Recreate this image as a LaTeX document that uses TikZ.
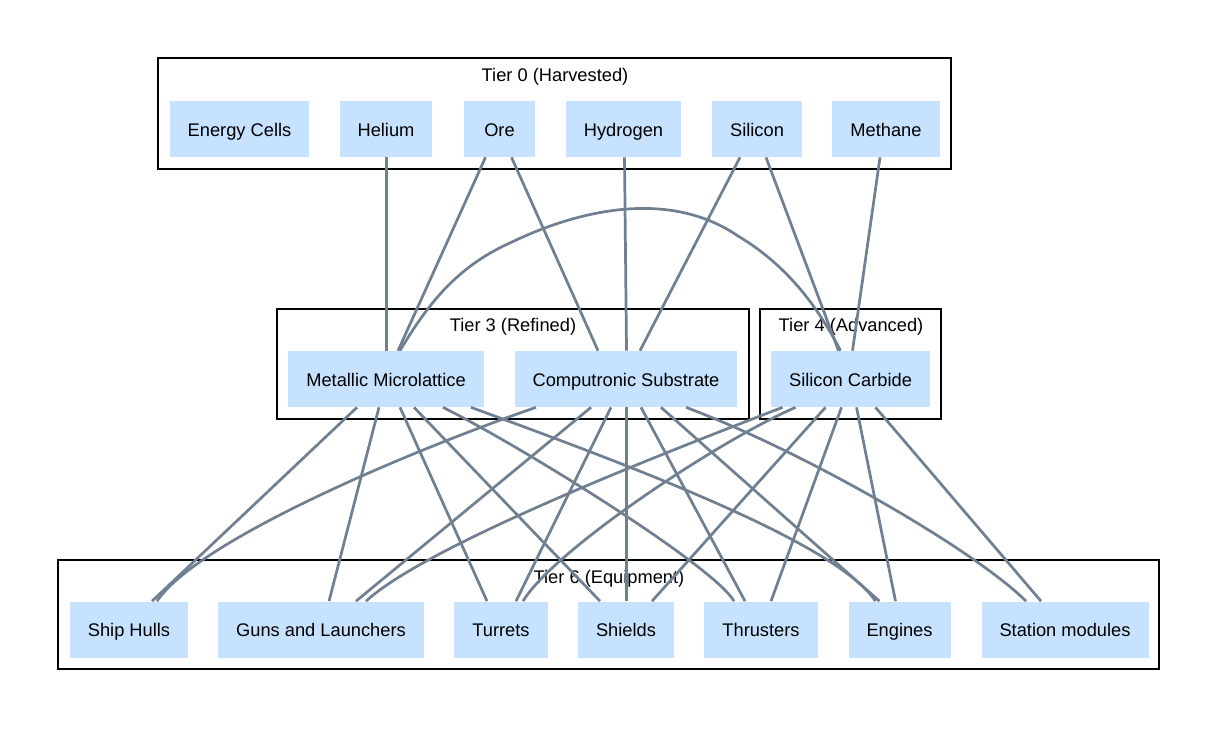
\documentclass[tikz,border=0pt]{standalone}
\usepackage{fontspec}
\setmainfont{Liberation Sans}
\usetikzlibrary{calc}
\definecolor{boxblue}{HTML}{C6E2FF}
\definecolor{linkgray}{HTML}{708090}
\tikzset{
    voce/.style={fill=boxblue, minimum height=1.12cm, minimum width=1.42cm, inner xsep=0.36cm,
        text height=9pt, text depth=0.5pt, font=\fontsize{10.4}{12}\selectfont},
    gruppo/.style={draw=black, line width=0.6pt},
    titolo/.style={font=\fontsize{10.4}{12}\selectfont},
    link/.style={draw=linkgray, line width=1.55pt}
}
\begin{document}
\begin{tikzpicture}[x=0.02cm,y=-0.02cm]
    \useasboundingbox (0,0) rectangle (1219,729);

    %gruppi
    \draw[gruppo] (158,58) rectangle (951,169);
    \node[titolo] (t0) at (555,76.5) {Tier 0 (Harvested)};
    \draw[gruppo] (277,309) rectangle (749,419);
    \node[titolo] (t3) at (513,326.5) {Tier 3 (Refined)};
    \draw[gruppo] (760,309) rectangle (941,419);
    \node[titolo] (t4) at (851,326.5) {Tier 4 (Advanced)};
    \draw[gruppo] (58,560) rectangle (1159,669);
    \node[titolo] (t6) at (609,578.5) {Tier 6 (Equipment)};

    %tier 0
    \node[voce] (ec) at (239.5,129) {Energy Cells};
    \node[voce] (he) at (386,129) {Helium};
    \node[voce] (ore) at (499.5,129) {Ore};
    \node[voce] (hy) at (623.5,129) {Hydrogen};
    \node[voce] (si) at (757,129) {Silicon};
    \node[voce] (me) at (886,129) {Methane};

    %tier 3 e 4
    \node[voce] (mm) at (386,379) {Metallic Microlattice};
    \node[voce] (cs) at (626,379) {Computronic Substrate};
    \node[voce] (sc) at (850.5,379) {Silicon Carbide};

    %tier 6
    \node[voce] (sh) at (129,629.5) {Ship Hulls};
    \node[voce] (gl) at (321,629.5) {Guns and Launchers};
    \node[voce] (tu) at (501,629.5) {Turrets};
    \node[voce] (sd) at (626,629.5) {Shields};
    \node[voce] (th) at (761,629.5) {Thrusters};
    \node[voce] (en) at (899.5,629.5) {Engines};
    \node[voce] (sm) at (1065,629.5) {Station modules};

    %collegamenti in alto
    \draw[link] ($(he.south)+(0.5,0)$) -- ($(mm.north)+(0.5,0)$);
    \draw[link] ($(ore.south)+(-14,0)$) -- ($(mm.north)+(12,0)$);
    \draw[link] ($(ore.south)+(12,0)$) -- ($(cs.north)+(-28,0)$);
    \draw[link] ($(hy.south)+(1,0)$) -- ($(cs.north)+(0.5,0)$);
    \draw[link] ($(si.south)+(-17,0)$) -- ($(cs.north)+(14,0)$);
    \draw[link] ($(si.south)+(9,0)$) -- ($(sc.north)+(-12,0)$);
    \draw[link] ($(me.south)+(-6,0)$) -- ($(sc.north)+(2,0)$);
    %arco
    \draw[link] ($(mm.north)+(14,0)$) .. controls (430,300) and (460,265) .. (512,242)
        .. controls (570,214) and (665,186) .. (738,236)
        .. controls (792,268) and (822,315) .. ($(sc.north)+(-10,0)$);

    %collegamenti in basso
    \draw[link] ($(mm.south)+(-29,0)$) -- ($(sh.north)+(23,0)$);
    \draw[link] ($(mm.south)+(-7,0)$) -- ($(gl.north)+(8,0)$);
    \draw[link] ($(mm.south)+(14,0)$) -- ($(tu.north)+(-14,0)$);
    \draw[link] ($(mm.south)+(28,0)$) -- ($(sd.north)+(-26,0)$);
    \draw[link] ($(mm.south)+(57,0)$) .. controls +(80,40) and +(-20,-35) .. ($(th.north)+(-27,0)$);
    \draw[link] ($(mm.south)+(85,0)$) .. controls +(150,55) and +(-40,-60) .. ($(en.north)+(-24,0)$);

    \draw[link] ($(cs.south)+(-90,0)$) .. controls +(-130,45) and +(40,-60) .. ($(sh.north)+(28,0)$);
    \draw[link] ($(cs.south)+(-35,0)$) -- ($(gl.north)+(35,0)$);
    \draw[link] ($(cs.south)+(-15,0)$) -- ($(tu.north)+(15,0)$);
    \draw[link] ($(cs.south)+(0.5,0)$) -- ($(sd.north)+(0.5,0)$);
    \draw[link] ($(cs.south)+(15,0)$) -- ($(th.north)+(-16,0)$);
    \draw[link] ($(cs.south)+(35,0)$) -- ($(en.north)+(-20,0)$);
    \draw[link] ($(cs.south)+(60,0)$) .. controls +(120,45) and +(-50,-50) .. ($(sm.north)+(-39,0)$);

    \draw[link] ($(sc.south)+(-68,0)$) .. controls +(-130,50) and +(60,-55) .. ($(gl.north)+(45,0)$);
    \draw[link] ($(sc.south)+(-55,0)$) .. controls +(-80,35) and +(30,-50) .. ($(tu.north)+(22,0)$);
    \draw[link] ($(sc.south)+(-25,0)$) -- ($(sd.north)+(26,0)$);
    \draw[link] ($(sc.south)+(-9,0)$) -- ($(th.north)+(10,0)$);
    \draw[link] ($(sc.south)+(6,0)$) -- ($(en.north)+(-4,0)$);
    \draw[link] ($(sc.south)+(25,0)$) -- ($(sm.north)+(-24,0)$);

\end{tikzpicture}
\end{document}
